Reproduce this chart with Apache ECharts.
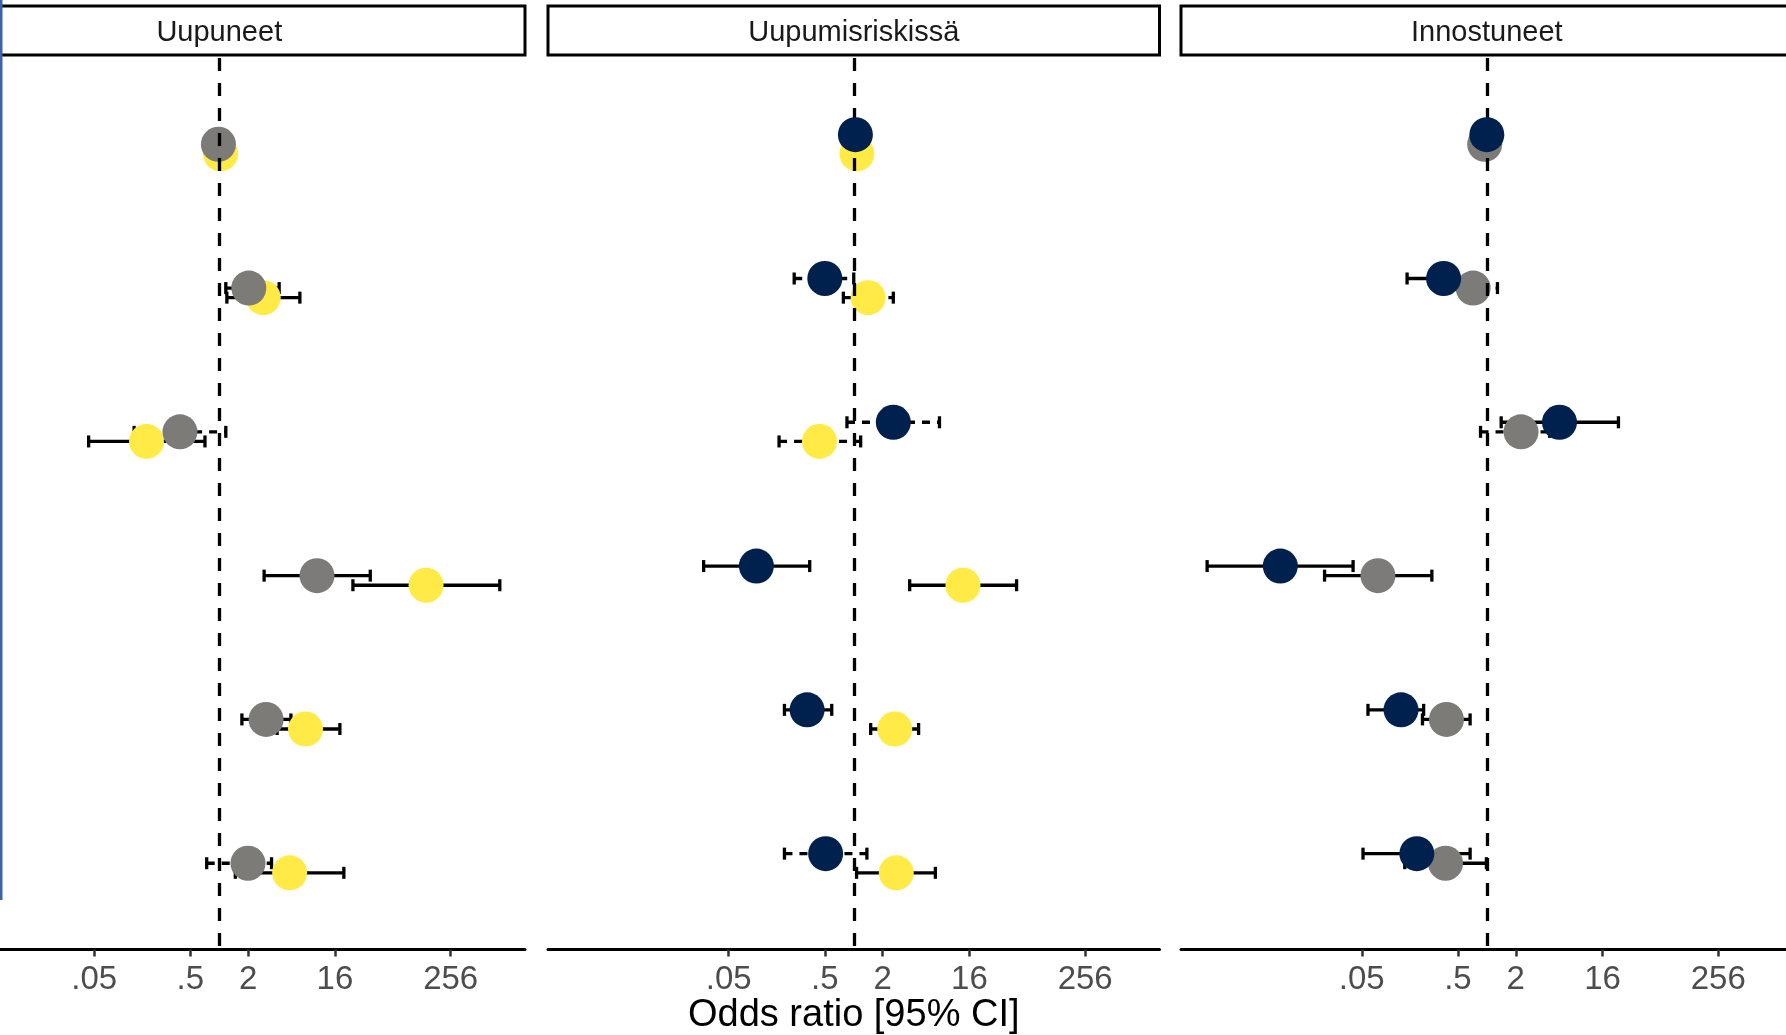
<!DOCTYPE html>
<html><head><meta charset="utf-8">
<script src="https://cdn.jsdelivr.net/npm/echarts@6/dist/echarts.min.js"></script>
<style>html,body{margin:0;padding:0;background:#fff}#c{width:1786px;height:1035px}</style>
</head><body><div id="c"></div>
<script>
// ---------- data ----------
const panels = ['Uupuneet', 'Uupumisriskissä', 'Innostuneet'];
const rows = [1, 2, 3, 4, 5, 6];
const tickValues = [0.05, 0.5, 2, 16, 256];
const tickLabels = ['.05', '.5', '2', '16', '256'];
const axisTitle = 'Odds ratio [95% CI]';

// Panel 1: Uupuneet (gray, yellow)
const p1GrayEst  = [0.98, 2.03, 0.39, 10.4, 3.07, 1.99];
const p1GrayLo   = [null, 1.17, 0.13, 2.93, 1.72, 0.74];
const p1GrayHi   = [null, 4.2, 1.17, 37.3, 5.57, 3.5];
const p1GrayDash = [0, 1, 1, 0, 0, 1];
const p1YellowEst  = [1.03, 2.87, 0.175, 142, 7.9, 5.4];
const p1YellowLo   = [null, 1.2, 0.0437, 24.6, 4.0, 1.47];
const p1YellowHi   = [null, 6.9, 0.71, 831, 18, 19.8];
const p1YellowDash = [0, 0, 0, 0, 0, 0];

// Panel 2: Uupumisriskissä (navy, yellow)
const p2NavyEst  = [1.04, 0.5, 2.58, 0.097, 0.327, 0.51];
const p2NavyLo   = [null, 0.24, 0.85, 0.0274, 0.19, 0.19];
const p2NavyHi   = [null, 1.0, 7.8, 0.348, 0.59, 1.37];
const p2NavyDash = [0, 1, 1, 0, 0, 1];
const p2YellowEst  = [1.08, 1.41, 0.44, 13.7, 2.67, 2.77];
const p2YellowLo   = [null, 0.78, 0.167, 3.82, 1.5, 1.07];
const p2YellowHi   = [null, 2.58, 1.18, 49.5, 4.73, 7.07];
const p2YellowDash = [0, 1, 1, 0, 0, 0];

// Panel 3: Innostuneet (navy, gray)
const p3NavyEst  = [1.0, 0.355, 5.7, 0.0071, 0.128, 0.187];
const p3NavyLo   = [null, 0.148, 1.41, 0.00123, 0.058, 0.0515];
const p3NavyHi   = [null, 0.75, 23.4, 0.0406, 0.22, 0.67];
const p3NavyDash = [0, 0, 0, 0, 0, 0];
const p3GrayEst  = [0.95, 0.72, 2.27, 0.0736, 0.38, 0.372];
const p3GrayLo   = [null, 0.42, 0.86, 0.0205, 0.214, 0.14];
const p3GrayHi   = [null, 1.29, 4.5, 0.268, 0.67, 0.99];
const p3GrayDash = [0, 1, 1, 0, 0, 0];

// ---------- styling / layout ----------
const COLORS = { navy: '#00204D', gray: '#7C7B78', yellow: '#FFEA46' };
const DODGE = { navy: -0.2 / 3, gray: 0, yellow: 0.2 / 3 };
const Z = { yellow: 3, gray: 4, navy: 5 };
const FONT = '"Liberation Sans", Arial, sans-serif';
const gridTop = 58, gridBottom = 1035 - 949.5;
const gridBoxes = [
  { left: 0, width: 525 },
  { left: 548, width: 611.5 },
  { left: 1181, width: 605 }
];
const xViews = [[-7.58, 10.57], [-10.57, 10.57], [-10.57, 10.34]];
const stripBoxes = [[-10, 525], [548, 1159.5], [1181, 1800]];
const stripCenters = [219.3, 853.75, 1486.8];

const panelData = [
  [
    { g: 'gray', est: p1GrayEst, lo: p1GrayLo, hi: p1GrayHi, dash: p1GrayDash },
    { g: 'yellow', est: p1YellowEst, lo: p1YellowLo, hi: p1YellowHi, dash: p1YellowDash }
  ],
  [
    { g: 'navy', est: p2NavyEst, lo: p2NavyLo, hi: p2NavyHi, dash: p2NavyDash },
    { g: 'yellow', est: p2YellowEst, lo: p2YellowLo, hi: p2YellowHi, dash: p2YellowDash }
  ],
  [
    { g: 'navy', est: p3NavyEst, lo: p3NavyLo, hi: p3NavyHi, dash: p3NavyDash },
    { g: 'gray', est: p3GrayEst, lo: p3GrayLo, hi: p3GrayHi, dash: p3GrayDash }
  ]
];

const log2 = v => Math.log2(v);
const tickPos = tickValues.map(log2);
const labelOf = v => {
  for (let i = 0; i < tickPos.length; i++) if (Math.abs(tickPos[i] - v) < 1e-6) return tickLabels[i];
  return '';
};

function errRender(params, api) {
  const lo = api.value(0), hi = api.value(1), y = api.value(2), dashed = api.value(3);
  const a = api.coord([lo, y]), b = api.coord([hi, y]);
  const lw = 3.3;
  const st = { stroke: '#000', lineWidth: lw, lineDash: dashed ? [8, 7] : null, fill: null };
  const cap = 6;
  return {
    type: 'group',
    children: [
      { type: 'line', shape: { x1: a[0], y1: a[1], x2: b[0], y2: b[1] }, style: st },
      { type: 'line', shape: { x1: a[0], y1: a[1] - cap, x2: a[0], y2: a[1] + cap }, style: { stroke: '#000', lineWidth: lw } },
      { type: 'line', shape: { x1: b[0], y1: b[1] - cap, x2: b[0], y2: b[1] + cap }, style: { stroke: '#000', lineWidth: lw } }
    ]
  };
}

const grid = [], xAxis = [], yAxis = [], series = [];
panels.forEach((name, pi) => {
  grid.push({
    left: gridBoxes[pi].left, width: gridBoxes[pi].width, top: gridTop, bottom: gridBottom,
    containLabel: false, outerBoundsMode: 'none'
  });
  xAxis.push({
    type: 'value', gridIndex: pi, min: xViews[pi][0], max: xViews[pi][1],
    axisLine: { show: true, onZero: false, lineStyle: { color: '#000', width: 3 } },
    axisTick: { show: true, customValues: tickPos, length: 7, lineStyle: { color: '#333', width: 2.5 } },
    axisLabel: { show: true, customValues: tickPos, formatter: v => labelOf(v), color: '#4D4D4D', fontSize: 33, fontFamily: FONT, margin: 14 },
    splitLine: { show: false }
  });
  yAxis.push({
    type: 'value', gridIndex: pi, min: 0.4, max: 6.6, inverse: true,
    axisLine: { show: false }, axisTick: { show: false }, axisLabel: { show: false }, splitLine: { show: false }
  });
  // reference line at OR = 1
  series.push({
    type: 'line', xAxisIndex: pi, yAxisIndex: pi, data: [], silent: true,
    markLine: {
      silent: true, symbol: 'none', animation: false,
      label: { show: false },
      lineStyle: { color: '#000', width: 3.3, type: [13, 12] },
      data: [{ xAxis: 0 }]
    }
  });
  panelData[pi].forEach(s => {
    const errData = [];
    rows.forEach((r, i) => {
      if (s.lo[i] != null && s.hi[i] != null) {
        errData.push([log2(s.lo[i]), log2(s.hi[i]), r + DODGE[s.g], s.dash[i]]);
      }
    });
    series.push({
      type: 'custom', xAxisIndex: pi, yAxisIndex: pi, renderItem: errRender,
      data: errData, encode: { x: [0, 1], y: 2 }, z: 2, silent: true
    });
    series.push({
      type: 'scatter', xAxisIndex: pi, yAxisIndex: pi, symbol: 'circle', symbolSize: 35,
      itemStyle: { color: COLORS[s.g], opacity: 1 },
      data: rows.map((r, i) => [log2(s.est[i]), r + DODGE[s.g]]),
      z: Z[s.g], silent: true
    });
  });
});

const graphic = [];
stripBoxes.forEach((b, i) => {
  graphic.push({
    type: 'rect', shape: { x: b[0], y: 6, width: b[1] - b[0], height: 49 },
    style: { fill: '#fff', stroke: '#000', lineWidth: 3 }, z: 10
  });
  graphic.push({
    type: 'text', x: stripCenters[i], y: 33,
    style: { text: panels[i], fill: '#1A1A1A', font: '29px ' + FONT, align: 'center', verticalAlign: 'middle' }, z: 11
  });
});
graphic.push({
  type: 'text', x: 853.75, y: 1016,
  style: { text: axisTitle, fill: '#000', font: '38px ' + FONT, align: 'center', verticalAlign: 'middle' }, z: 11
});
graphic.push({ type: 'rect', shape: { x: 0, y: 0, width: 2.5, height: 900 }, style: { fill: '#4161A8' }, z: 12 });

const chart = echarts.init(document.getElementById('c'), null, { renderer: 'canvas' });
chart.setOption({
  animation: false,
  backgroundColor: '#fff',
  grid, xAxis, yAxis, series, graphic
});
</script></body></html>
